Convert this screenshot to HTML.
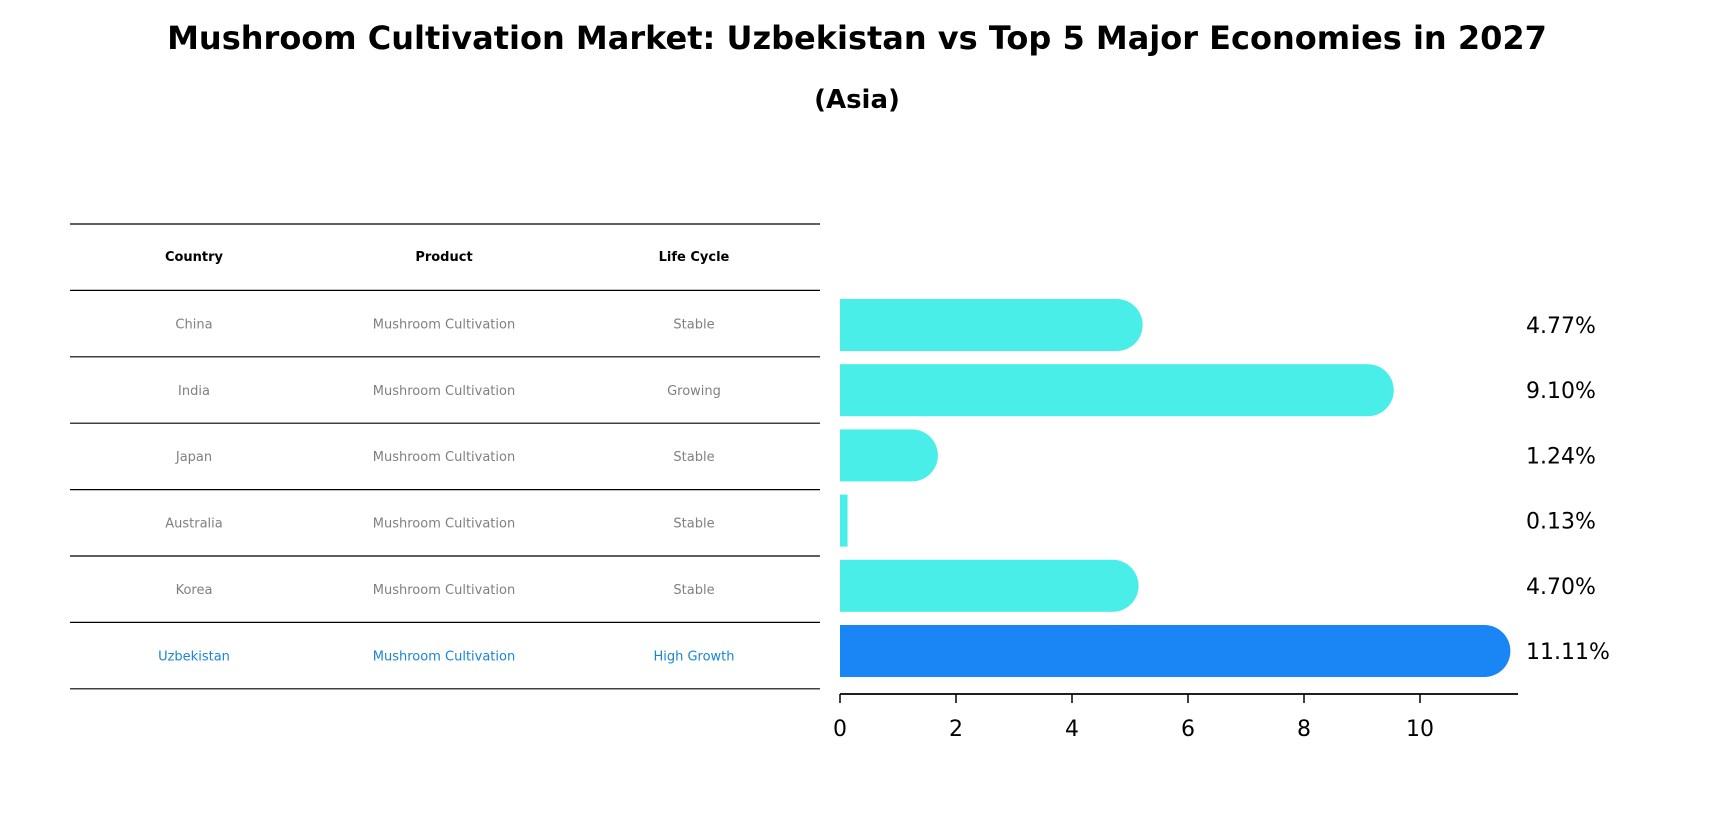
<!DOCTYPE html>
<html><head><meta charset="utf-8"><style>
body{margin:0;background:#fff;font-family:"DejaVu Sans","Liberation Sans",sans-serif}
</style></head><body>
<svg width="1714" height="823" xmlns="http://www.w3.org/2000/svg" font-family="DejaVu Sans, Liberation Sans, sans-serif" id="chart">
<text x="857" y="49" text-anchor="middle" font-size="32" font-weight="bold">Mushroom Cultivation Market: Uzbekistan vs Top 5 Major Economies in 2027</text>
<text x="857" y="108" text-anchor="middle" font-size="26" font-weight="bold">(Asia)</text>
<g id="table"></g>
<g id="bars"></g>
</svg>
<script>
const countries=["China","India","Japan","Australia","Korea","Uzbekistan"];
const products=["Mushroom Cultivation","Mushroom Cultivation","Mushroom Cultivation","Mushroom Cultivation","Mushroom Cultivation","Mushroom Cultivation"];
const lifeCycles=["Stable","Growing","Stable","Stable","Stable","High Growth"];
const values=[4.77,9.10,1.24,0.13,4.70,11.11];
const ticks=[0,2,4,6,8,10];
const NS="http://www.w3.org/2000/svg";
function mk(tag,attrs,parent,text){const e=document.createElementNS(NS,tag);for(const k in attrs)e.setAttribute(k,attrs[k]);if(text!==undefined)e.textContent=text;parent.appendChild(e);return e;}
const xs=v=>840+v*58;
const rowY=i=>356+i*66.5;
const tbl=document.getElementById('table');
const cols=[194,444,694];
const heads=["Country","Product","Life Cycle"];
for(let i=0;i<=7;i++){
  const y=224+i*66.4;
  const l=mk('line',{x1:70,x2:820,y1:y,y2:y,stroke:'#000','stroke-width':1.2},tbl);
  
  
}
heads.forEach((h,j)=>{
  const t=mk('text',{x:cols[j],y:261,'text-anchor':'middle','font-size':13,'font-weight':'bold'},tbl,h);
  
  
});
countries.forEach((c,i)=>{
  const y=224+(i+1)*66.4+38;
  const col=i===5?'#1a85d6':'#808080';
  [c,products[i],lifeCycles[i]].forEach((v,j)=>{
    const t=mk('text',{x:cols[j],y:y,'text-anchor':'middle','font-size':13,fill:col},tbl,v);
    
    
  });
});
const bars=document.getElementById('bars');
const h=52;
values.forEach((v,i)=>{
  const cy=325+i*65.2;
  const fill=i===5?'#1a85f5':'#4aeee8';
  const r=mk('rect',{x:840,y:cy-h/2,width:xs(v)-840,height:h,fill:fill},bars);
  
  
  if(v>0.5){
    const c=mk('circle',{cx:xs(v),cy:cy,r:h/2,fill:fill},bars);
    
    
  }
  const t=mk('text',{x:1526,y:cy+8,'font-size':22},bars,v.toFixed(2)+'%');
  
  
});
const ax=mk('line',{x1:840,x2:1518,y1:694,y2:694,stroke:'#000','stroke-width':1.8},bars);


ticks.forEach(tv=>{
  const tk=mk('line',{x1:xs(tv),x2:xs(tv),y1:694,y2:703,stroke:'#000','stroke-width':1.5},bars);
  
  
  const t=mk('text',{x:xs(tv),y:736,'text-anchor':'middle','font-size':22},bars,String(tv));
  
  
});
</script>
</body></html>
